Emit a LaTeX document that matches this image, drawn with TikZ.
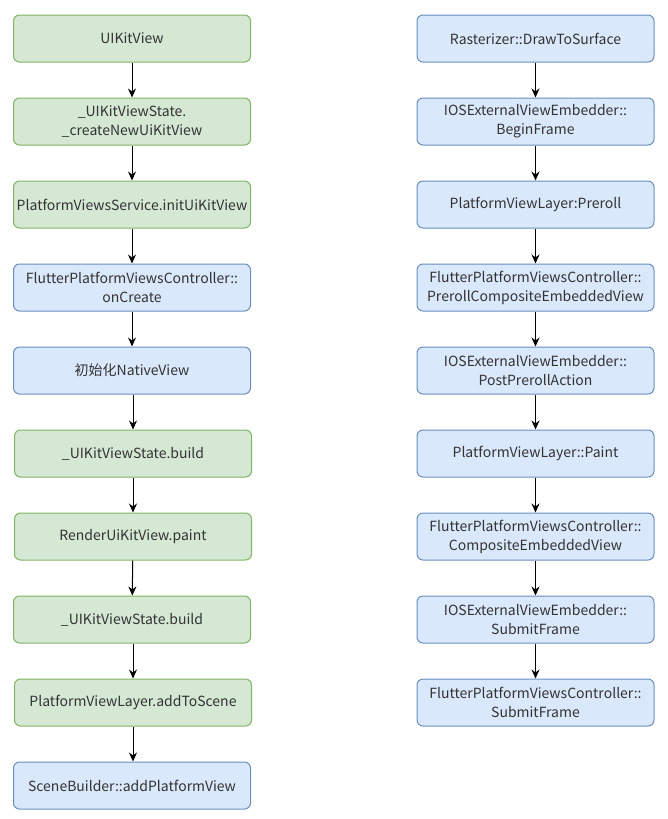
\documentclass[tikz,border=0pt]{standalone}
\usepackage{fontspec}
\setmainfont{Noto Sans CJK SC}
\usepackage{tikz}
\usetikzlibrary{
  positioning,
  arrows.meta
}
\usepackage{xcolor}
\definecolor{dartfill}{HTML}{D5E8D4}
\definecolor{dartline}{HTML}{82B366}
\definecolor{enginefill}{HTML}{DAE8FC}
\definecolor{engineline}{HTML}{6C8EBF}
\definecolor{ink}{HTML}{333333}

\begin{document}
\begin{tikzpicture}[
  x=1pt, y=-1pt,
  box/.style={draw, line width=1pt, rounded corners=6pt, minimum height=47pt, minimum width=237pt,
              align=center, inner sep=0pt, text=ink, font=\fontsize{14}{19}\selectfont},
  dart/.style={box, fill=dartfill, draw=dartline},
  engine/.style={box, fill=enginefill, draw=engineline},
  arr/.style={-{Stealth[length=9pt, width=8pt]}, line width=1pt, black}
]
  \useasboundingbox (0,0) rectangle (668,819);

  % Framework side
  \node[dart] (uikit) at (132, 38.5) {UIKitView};
  \node[dart] (create) at (132, 121.5) {\_UIKitViewState.\\\_createNewUiKitView};
  \node[dart] (service) at (132, 204.5) {PlatformViewsService.initUiKitView};
  \node[engine] (oncreate) at (132, 287.5) {FlutterPlatformViewsController::\\onCreate};
  \node[engine] (native) at (132, 370.5) {初始化NativeView};
  \node[dart] (build1) at (133, 453.5) {\_UIKitViewState.build};
  \node[dart] (paint) at (133, 536.5) {RenderUiKitView.paint};
  \node[dart] (build2) at (132, 619.5) {\_UIKitViewState.build};
  \node[dart] (toscene) at (133, 702.5) {PlatformViewLayer.addToScene};
  \node[engine] (addview) at (132, 785.5) {SceneBuilder::addPlatformView};

  % Raster side
  \node[engine] (raster) at (535.5, 38.5) {Rasterizer::DrawToSurface};
  \node[engine] (begin) at (535.5, 121.5) {IOSExternalViewEmbedder::\\BeginFrame};
  \node[engine] (preroll) at (535.5, 204.5) {PlatformViewLayer:Preroll};
  \node[engine] (precomp) at (535.5, 287.5) {FlutterPlatformViewsController::\\PrerollCompositeEmbeddedView};
  \node[engine] (postpre) at (535.5, 370.5) {IOSExternalViewEmbedder::\\PostPrerollAction};
  \node[engine] (lpaint) at (535.5, 453.5) {PlatformViewLayer::Paint};
  \node[engine] (comp) at (535.5, 536.5) {FlutterPlatformViewsController::\\CompositeEmbeddedView};
  \node[engine] (submit) at (535.5, 619.5) {IOSExternalViewEmbedder::\\SubmitFrame};
  \node[engine] (csubmit) at (535.5, 702.5) {FlutterPlatformViewsController::\\SubmitFrame};

  \draw[arr] (uikit) -- (create);
  \draw[arr] (create) -- (service);
  \draw[arr] (service) -- (oncreate);
  \draw[arr] (oncreate) -- (native);
  \draw[arr] (native.south -| build1) -- (build1);
  \draw[arr] (build1) -- (paint);
  \draw[arr] (paint) -- (build2);
  \draw[arr] (build2.south -| toscene) -- (toscene);
  \draw[arr] (toscene) -- (addview.north -| toscene);

  \draw[arr] (raster) -- (begin);
  \draw[arr] (begin) -- (preroll);
  \draw[arr] (preroll) -- (precomp);
  \draw[arr] (precomp) -- (postpre);
  \draw[arr] (postpre) -- (lpaint);
  \draw[arr] (lpaint) -- (comp);
  \draw[arr] (comp) -- (submit);
  \draw[arr] (submit) -- (csubmit);
\end{tikzpicture}
\end{document}
